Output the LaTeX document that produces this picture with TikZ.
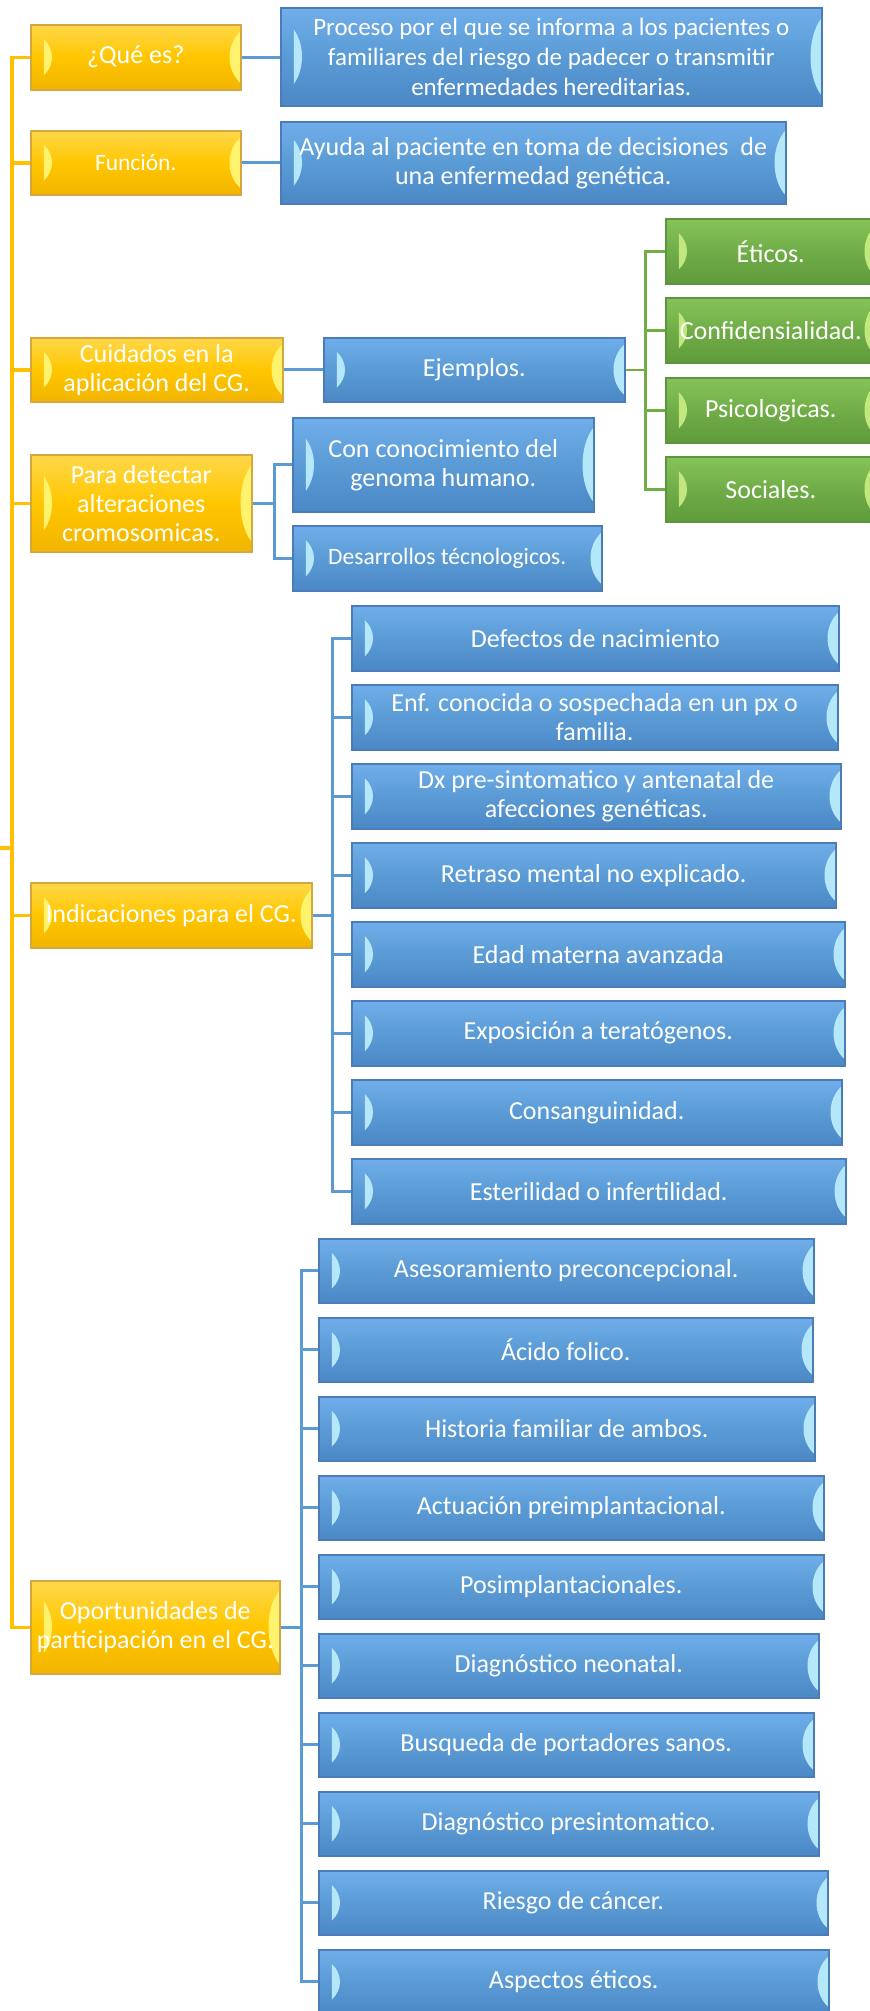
\documentclass[tikz,border=0pt]{standalone}
\usepackage{fontspec}
\setmainfont{Carlito}
\usetikzlibrary{calc}

% Colores
\definecolor{oro}{HTML}{FFC600}
\definecolor{oroclaro}{HTML}{FFD84A}
\definecolor{orooscuro}{HTML}{F2B500}
\definecolor{oroborde}{HTML}{D6A640}
\definecolor{orobrillo}{HTML}{FFF36E}
\definecolor{azul}{HTML}{5B9BD5}
\definecolor{azulclaro}{HTML}{6FAEEA}
\definecolor{azuloscuro}{HTML}{4A88C6}
\definecolor{azulborde}{HTML}{4A7DB8}
\definecolor{azulbrillo}{HTML}{B5E7FB}
\definecolor{verde}{HTML}{70AD47}
\definecolor{verdeclaro}{HTML}{86C45A}
\definecolor{verdeoscuro}{HTML}{5F9B3B}
\definecolor{verdeborde}{HTML}{5C9440}
\definecolor{verdebrillo}{HTML}{C2E77E}
\definecolor{tronco}{HTML}{FFC000}

\tikzset{
  bisel/.style={path picture={
    \fill[#1] let \p1=(path picture bounding box.north west),
                  \p2=(path picture bounding box.south east),
                  \n1={\y1-\y2} in
      (\x1+13pt,\y1-0.22*\n1) .. controls (\x1+24pt,\y1-0.38*\n1) and (\x1+24pt,\y1-0.62*\n1) .. (\x1+13pt,\y2+0.22*\n1) -- cycle
      (\x2,\y1-0.1*\n1) .. controls (\x2-15pt,\y1-0.3*\n1) and (\x2-15pt,\y2+0.3*\n1) .. (\x2,\y2+0.1*\n1) -- cycle;
  }},
  caja/.style={draw, line width=1.5pt, text=white, align=center, anchor=north west,
    inner sep=0pt, font=\fontsize{26}{29}\selectfont},
  tam/.style 2 args={minimum width=#1pt, minimum height=#2pt},
  amarilla/.style={caja, draw=oroborde, top color=oroclaro, bottom color=orooscuro,
    middle color=oro, bisel=orobrillo},
  azulada/.style={caja, draw=azulborde, top color=azulclaro, bottom color=azuloscuro,
    middle color=azul, bisel=azulbrillo},
  verdosa/.style={caja, draw=verdeborde, top color=verdeclaro, bottom color=verdeoscuro,
    middle color=verde, bisel=verdebrillo},
  ltronco/.style={draw=tronco, line width=3.5pt},
  lazul/.style={draw=azul, line width=3pt},
  lverde/.style={draw=verde, line width=2.5pt}
}

\begin{document}
\begin{tikzpicture}[x=1pt, y=-1pt]

% Margenes
\useasboundingbox (0,0) rectangle (870,2011);

% Tronco principal
\coordinate (raiz) at (0,848);
\coordinate (tronco) at (12,848);

% Temas
\node[amarilla, tam={210}{65}] (que) at (30,24) {¿Qué es?};
\node[amarilla, tam={210}{64}, font=\fontsize{23.5}{28}\selectfont] (fun) at (30,130) {Función.};
\node[amarilla, tam={252}{64}] (cui) at (30,337) {Cuidados en la\\aplicación del CG.};
\node[amarilla, tam={221}{97}] (par) at (30,454) {Para detectar\\alteraciones\\cromosomicas.};
\node[amarilla, tam={281}{65}] (ind) at (30,882) {Indicaciones para el CG.};
\node[amarilla, tam={249}{93}] (opo) at (30,1580) {Oportunidades de\\participación en el CG.};

% Definicion y funcion
\node[azulada, tam={541}{98}, font=\fontsize{25}{30}\selectfont] (pro) at (280,7) {Proceso por el que se informa a los pacientes o\\familiares del riesgo de padecer o transmitir\\enfermedades hereditarias.};
\node[azulada, tam={505}{82}] (ayu) at (280,121) {Ayuda al paciente en toma de decisiones~ de\\una enfermedad genética.};

% Cuidados
\node[azulada, tam={301}{64}] (eje) at (323,337) {Ejemplos.};
\foreach \n/\pos/\t in {eti/218/Éticos., cnf/297/Confidensialidad., psi/377/Psicologicas., soc/456/Sociales.}
  \node[verdosa, tam={210}{65}] (\n) at (665,\pos) {\t};

% Alteraciones
\node[azulada, tam={301}{94}] (gen) at (292,417) {Con conocimiento del\\genoma humano.};
\node[azulada, tam={309}{65}, font=\fontsize{23.5}{28}\selectfont] (tec) at (292,525) {Desarrollos técnologicos.};

% Indicaciones
\foreach \i/\w/\t in {1/487/Defectos de nacimiento,
    2/486/{Enf. conocida o sospechada en un px o\\familia.},
    3/489/{Dx pre-sintomatico y antenatal de\\afecciones genéticas.},
    4/484/Retraso mental no explicado.,
    5/493/Edad materna avanzada,
    6/493/Exposición a teratógenos.,
    7/490/Consanguinidad.,
    8/494/Esterilidad o infertilidad.}
  \node[azulada, tam={\w}{65}] (i\i) at (351,{605+79*(\i-1)}) {\t};

% Oportunidades
\foreach \i/\w/\t in {1/495/Asesoramiento preconcepcional.,
    2/494/Ácido folico.,
    3/496/Historia familiar de ambos.,
    4/505/Actuación preimplantacional.,
    5/505/Posimplantacionales.,
    6/500/Diagnóstico neonatal.,
    7/495/Busqueda de portadores sanos.,
    8/500/Diagnóstico presintomatico.,
    9/509/Riesgo de cáncer.,
    10/510/Aspectos éticos.}
  \node[azulada, tam={\w}{64}] (o\i) at (318,{1238+79*(\i-1)}) {\t};

% Tronco
\draw[ltronco] (raiz) -- (tronco);
\draw[ltronco] (que.west) -| (tronco) |- (opo.west);
\foreach \n in {fun,cui,par,ind}
  \draw[ltronco] (tronco |- \n.west) -- (\n.west);

% Ramas
\draw[lazul] (que.east) -- (que.east -| pro.west);
\draw[lazul] (fun.east) -- (fun.east -| ayu.west);
\draw[lazul] (cui.east) -- (eje.west);
\foreach \n in {eti,cnf,psi,soc}
  \draw[lverde] (eje.east) -- ++(20,0) |- (\n.west);
\foreach \n in {gen,tec}
  \draw[lazul] (par.east) -- ++(22,0) |- (\n.west);
\foreach \i in {1,...,8}
  \draw[lazul] (ind.east) -- ++(20,0) |- (i\i.west);
\foreach \i in {1,...,10}
  \draw[lazul] (opo.east) -- ++(21,0) |- (o\i.west);

\end{tikzpicture}
\end{document}
